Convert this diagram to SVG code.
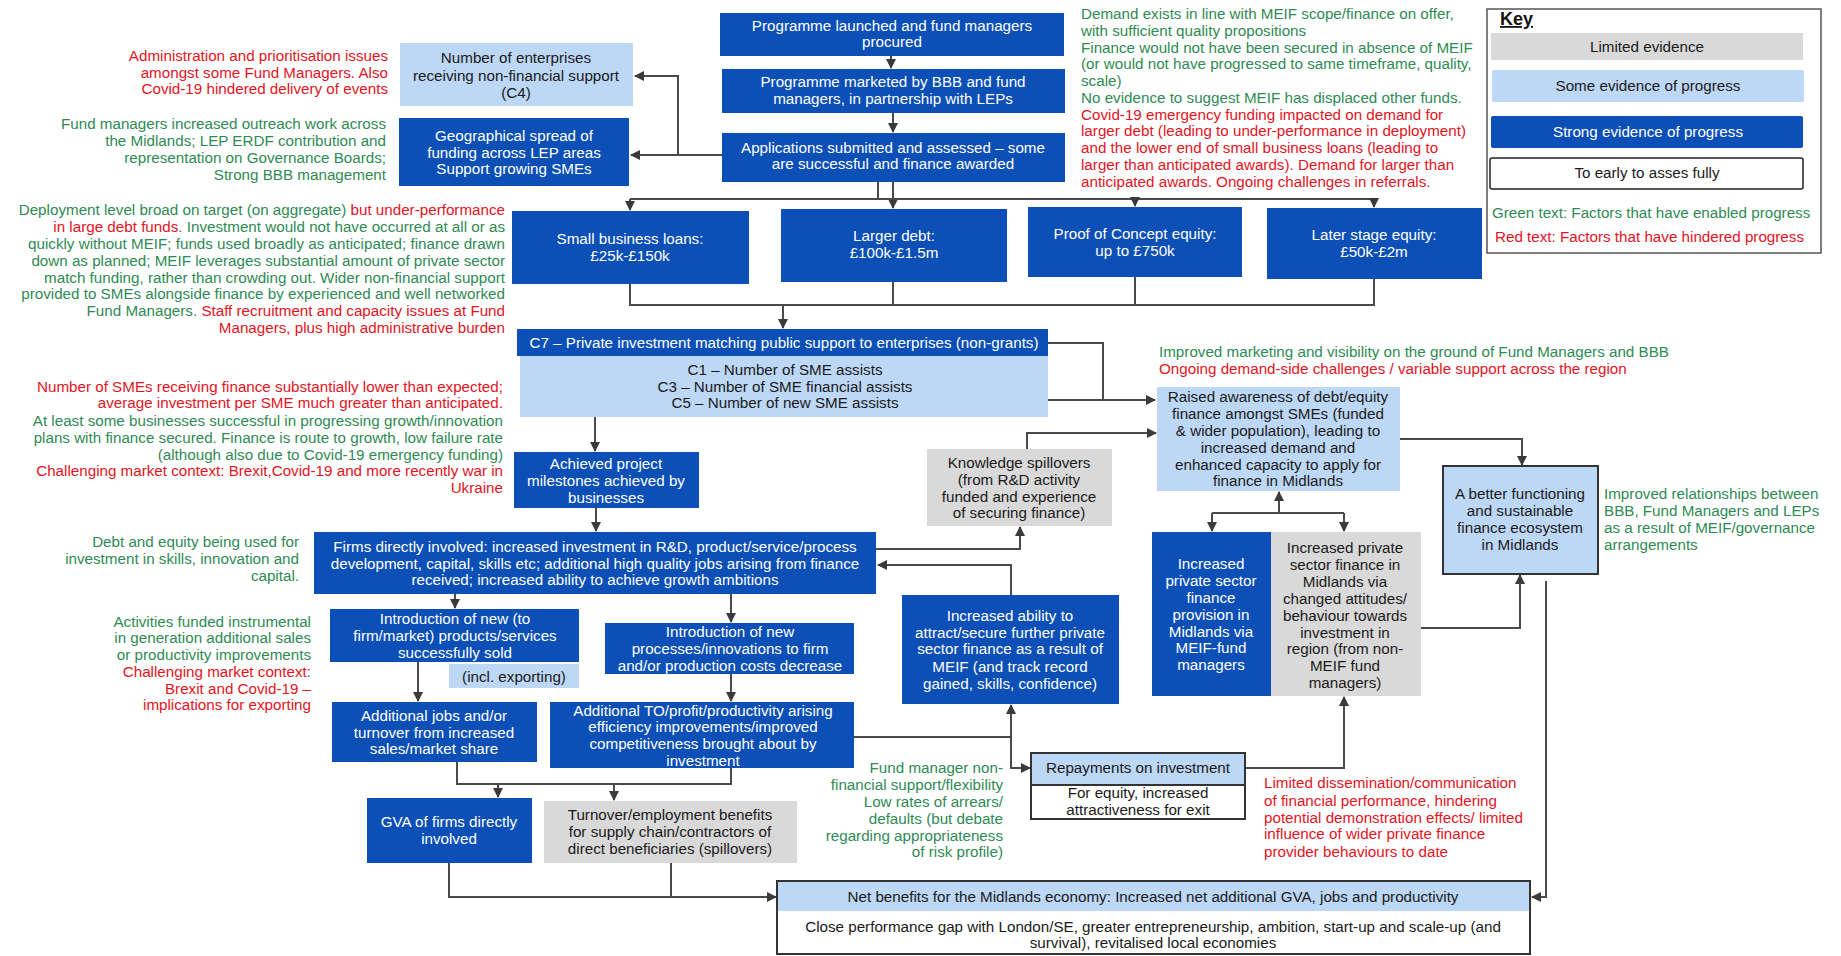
<svg xmlns="http://www.w3.org/2000/svg" width="1841" height="956" viewBox="0 0 1841 956">
<defs>
<style>
text{font-family:"Liberation Sans",Arial,sans-serif;font-size:15.2px}
.w{fill:#ffffff;text-anchor:middle}
.k{fill:#1a1a1a;text-anchor:middle}
.g{fill:#2f8a55}
.r{fill:#e3141e}
.re{text-anchor:end}
.db{fill:#0b4fb7}
.lb{fill:#bdd7f7}
.gr{fill:#d9d9d9}
.c{fill:none;stroke:#4a4a4a;stroke-width:2}
</style>
<marker id="ah" viewBox="0 0 10 10" refX="9" refY="5" markerWidth="10" markerHeight="10" markerUnits="userSpaceOnUse" orient="auto"><path d="M0,0 L10,5 L0,10 z" fill="#3a3a3a"/></marker>
</defs>
<rect width="1841" height="956" fill="#ffffff"/>

<g id="connectors">
<path class="c" d="M891,56 V68" marker-end="url(#ah)"/>
<path class="c" d="M893,113 V132" marker-end="url(#ah)"/>
<path class="c" d="M722,155 H678 V76 H635" marker-end="url(#ah)"/>
<path class="c" d="M678,155 H631" marker-end="url(#ah)"/>
<path class="c" d="M893,182 V208" marker-end="url(#ah)"/>
<path class="c" d="M878,182 V199"/>
<path class="c" d="M630,199 H1374"/>
<path class="c" d="M630,199 V210" marker-end="url(#ah)"/>
<path class="c" d="M1135,199 V206" marker-end="url(#ah)"/>
<path class="c" d="M1374,199 V207" marker-end="url(#ah)"/>
<path class="c" d="M630,284 V305 H1374 V279"/>
<path class="c" d="M893,282 V305"/>
<path class="c" d="M1135,277 V305"/>
<path class="c" d="M783,305 V328" marker-end="url(#ah)"/>
<path class="c" d="M1048,343 H1103 V400"/>
<path class="c" d="M1048,400 H1155" marker-end="url(#ah)"/>
<path class="c" d="M595,387 V451" marker-end="url(#ah)"/>
<path class="c" d="M596,508 V531" marker-end="url(#ah)"/>
<path class="c" d="M876,549 H1020 V527" marker-end="url(#ah)"/>
<path class="c" d="M1011,595 V565 H878" marker-end="url(#ah)"/>
<path class="c" d="M1027,449 V433 H1156" marker-end="url(#ah)"/>
<path class="c" d="M1400,439 H1522 V465" marker-end="url(#ah)"/>
<path class="c" d="M1279,513 V492" marker-end="url(#ah)"/>
<path class="c" d="M1212,513 H1344"/>
<path class="c" d="M1212,513 V531" marker-end="url(#ah)"/>
<path class="c" d="M1344,513 V531" marker-end="url(#ah)"/>
<path class="c" d="M1421,628 H1520 V575" marker-end="url(#ah)"/>
<path class="c" d="M1546,581 V897 H1532" marker-end="url(#ah)"/>
<path class="c" d="M455,594 V608" marker-end="url(#ah)"/>
<path class="c" d="M731,594 V622" marker-end="url(#ah)"/>
<path class="c" d="M418,662 V701" marker-end="url(#ah)"/>
<path class="c" d="M731,674 V701" marker-end="url(#ah)"/>
<path class="c" d="M457,762 V784 H731 V768"/>
<path class="c" d="M498,784 V797" marker-end="url(#ah)"/>
<path class="c" d="M614,784 V800" marker-end="url(#ah)"/>
<path class="c" d="M449,863 V897 H776" marker-end="url(#ah)"/>
<path class="c" d="M671,863 V897"/>
<path class="c" d="M854,737 H1011 V705" marker-end="url(#ah)"/>
<path class="c" d="M1011,737 V768 H1030" marker-end="url(#ah)"/>
<path class="c" d="M1245,768 H1344 V697" marker-end="url(#ah)"/>
</g>

<g id="n-launched"><rect class="db" x="720" y="13" width="344" height="43"/>
<text class="w" x="892" y="31">Programme  launched and fund managers</text><text class="w" x="892" y="47">procured</text></g>
<g id="n-marketed"><rect class="db" x="722" y="69" width="343" height="44"/>
<text class="w" x="893" y="87">Programme  marketed by BBB and fund</text><text class="w" x="893" y="104">managers, in partnership with LEPs</text></g>
<g id="n-applications"><rect class="db" x="722" y="133" width="343" height="49"/>
<text class="w" x="893" y="153">Applications submitted and assessed – some</text><text class="w" x="893" y="169">are successful and finance awarded</text></g>

<g id="n-c4"><rect class="lb" x="400" y="43" width="233" height="63"/>
<text class="k" x="516" y="63">Number of enterprises</text><text class="k" x="516" y="81">receiving non-financial support</text><text class="k" x="516" y="98">(C4)</text></g>
<g id="n-geo"><rect class="db" x="399" y="118" width="230" height="68"/>
<text class="w" x="514" y="141">Geographical spread of</text><text class="w" x="514" y="158">funding across LEP areas</text><text class="w" x="514" y="174">Support growing SMEs</text></g>

<g id="n-small"><rect class="db" x="512" y="211" width="237" height="73"/>
<text class="w" x="630" y="244">Small  business loans:</text><text class="w" x="630" y="261">£25k-£150k</text></g>
<g id="n-larger"><rect class="db" x="781" y="209" width="226" height="73"/>
<text class="w" x="894" y="241">Larger debt:</text><text class="w" x="894" y="258">£100k-£1.5m</text></g>
<g id="n-poc"><rect class="db" x="1028" y="207" width="214" height="70"/>
<text class="w" x="1135" y="239">Proof of Concept equity:</text><text class="w" x="1135" y="256">up to £750k</text></g>
<g id="n-later"><rect class="db" x="1267" y="208" width="215" height="71"/>
<text class="w" x="1374" y="240">Later stage equity:</text><text class="w" x="1374" y="257">£50k-£2m</text></g>

<g id="n-c7"><rect class="lb" x="520" y="356" width="528" height="61"/><rect class="db" x="517" y="329" width="531" height="27"/>
<text class="w" x="784" y="348">C7 – Private investment matching public support to enterprises (non-grants)</text>
<text class="k" x="785" y="375">C1 – Number of SME  assists</text><text class="k" x="785" y="392">C3 – Number of SME  financial assists</text><text class="k" x="785" y="408">C5 – Number of new SME assists</text></g>

<g id="n-achieved"><rect class="db" x="514" y="452" width="185" height="56"/>
<text class="w" x="606" y="469">Achieved project</text><text class="w" x="606" y="486">milestones achieved by</text><text class="w" x="606" y="503">businesses</text></g>

<g id="n-firms"><rect class="db" x="314" y="532" width="562" height="62"/>
<text class="w" x="595" y="552">Firms directly involved: increased investment in R&amp;D,  product/service/process</text>
<text class="w" x="595" y="569">development, capital, skills etc; additional high quality jobs arising from finance</text>
<text class="w" x="595" y="585">received; increased ability to achieve growth ambitions</text></g>

<g id="n-knowledge"><rect class="gr" x="927" y="449" width="185" height="77"/>
<text class="k" x="1019" y="468">Knowledge spillovers</text><text class="k" x="1019" y="485">(from R&amp;D activity</text><text class="k" x="1019" y="502">funded and experience</text><text class="k" x="1019" y="518">of securing finance)</text></g>

<g id="n-raised"><rect class="lb" x="1157" y="387" width="243" height="104"/>
<text class="k" x="1278" y="402">Raised awareness of debt/equity</text><text class="k" x="1278" y="419">finance amongst SMEs  (funded</text><text class="k" x="1278" y="436">&amp; wider population), leading to</text><text class="k" x="1278" y="453">increased demand and</text><text class="k" x="1278" y="470">enhanced capacity to apply for</text><text class="k" x="1278" y="486">finance in Midlands</text></g>

<g id="n-better"><rect class="lb" x="1443" y="466" width="155" height="108" stroke="#333333" stroke-width="2"/>
<text class="k" x="1520" y="499">A better functioning</text><text class="k" x="1520" y="516">and sustainable</text><text class="k" x="1520" y="533">finance ecosystem</text><text class="k" x="1520" y="550">in Midlands</text></g>

<g id="n-meif"><rect class="db" x="1152" y="532" width="119" height="164"/>
<text class="w" x="1211" y="569">Increased</text><text class="w" x="1211" y="586">private sector</text><text class="w" x="1211" y="603">finance</text><text class="w" x="1211" y="620">provision in</text><text class="w" x="1211" y="637">Midlands  via</text><text class="w" x="1211" y="653">MEIF-fund</text><text class="w" x="1211" y="670">managers</text></g>

<g id="n-nonmeif"><rect class="gr" x="1271" y="532" width="150" height="164"/>
<text class="k" x="1345" y="553">Increased private</text><text class="k" x="1345" y="570">sector finance in</text><text class="k" x="1345" y="587">Midlands  via</text><text class="k" x="1345" y="604">changed attitudes/</text><text class="k" x="1345" y="621">behaviour towards</text><text class="k" x="1345" y="638">investment in</text><text class="k" x="1345" y="654">region (from non-</text><text class="k" x="1345" y="671">MEIF  fund</text><text class="k" x="1345" y="688">managers)</text></g>

<g id="n-ability"><rect class="db" x="902" y="595" width="217" height="109"/>
<text class="w" x="1010" y="621">Increased ability to</text><text class="w" x="1010" y="638">attract/secure further private</text><text class="w" x="1010" y="654">sector finance as a result of</text><text class="w" x="1010" y="672">MEIF  (and track record</text><text class="w" x="1010" y="689">gained, skills, confidence)</text></g>

<g id="n-intro"><rect class="db" x="330" y="609" width="249" height="53"/>
<text class="w" x="455" y="624">Introduction of new (to</text><text class="w" x="455" y="641">firm/market) products/services</text><text class="w" x="455" y="658">successfully sold</text></g>
<g id="n-export"><rect class="lb" x="449" y="664" width="130" height="24"/>
<text class="k" x="514" y="682">(incl. exporting)</text></g>

<g id="n-process"><rect class="db" x="605" y="623" width="249" height="51"/>
<text class="w" x="730" y="637">Introduction of new</text><text class="w" x="730" y="654">processes/innovations to firm</text><text class="w" x="730" y="671">and/or production costs decrease</text></g>

<g id="n-jobs"><rect class="db" x="332" y="702" width="205" height="60"/>
<text class="w" x="434" y="721">Additional jobs and/or</text><text class="w" x="434" y="738">turnover from increased</text><text class="w" x="434" y="754">sales/market share</text></g>

<g id="n-to"><rect class="db" x="550" y="702" width="304" height="66"/>
<text class="w" x="703" y="716">Additional TO/profit/productivity arising</text><text class="w" x="703" y="732">efficiency improvements/improved</text><text class="w" x="703" y="749">competitiveness brought about by</text><text class="w" x="703" y="766">investment</text></g>

<g id="n-gva"><rect class="db" x="367" y="798" width="165" height="65"/>
<text class="w" x="449" y="827">GVA of firms directly</text><text class="w" x="449" y="844">involved</text></g>

<g id="n-turnover"><rect class="gr" x="544" y="801" width="253" height="62"/>
<text class="k" x="670" y="820">Turnover/employment benefits</text><text class="k" x="670" y="837">for supply chain/contractors of</text><text class="k" x="670" y="854">direct beneficiaries (spillovers)</text></g>

<g id="n-repay"><rect x="1031" y="753" width="214" height="66" fill="#ffffff" stroke="#333333" stroke-width="2"/><rect class="lb" x="1032" y="754" width="212" height="31"/><line x1="1031" y1="785" x2="1245" y2="785" stroke="#333333" stroke-width="2"/>
<text class="k" x="1138" y="773">Repayments on investment</text><text class="k" x="1138" y="798">For equity, increased</text><text class="k" x="1138" y="815">attractiveness for exit</text></g>

<g id="n-net"><rect x="777" y="881" width="753" height="73" fill="#ffffff" stroke="#333333" stroke-width="2"/><rect class="lb" x="778" y="882" width="751" height="29"/>
<text class="k" x="1153" y="902">Net benefits for the Midlands  economy: Increased net additional GVA, jobs and productivity</text>
<text class="k" x="1153" y="932">Close performance gap with London/SE,  greater entrepreneurship, ambition, start-up and scale-up (and</text>
<text class="k" x="1153" y="948">survival), revitalised local economies</text></g>

<g id="key"><rect x="1487" y="9" width="334" height="244" fill="#ffffff" stroke="#555555" stroke-width="1.5"/>
<text x="1500" y="25" style="font-size:18px;font-weight:bold;text-decoration:underline" fill="#111111">Key</text>
<rect class="gr" x="1491" y="33" width="312" height="27"/><text class="k" x="1647" y="52">Limited  evidence</text>
<rect class="lb" x="1492" y="70" width="312" height="32" rx="2"/><text class="k" x="1648" y="91">Some  evidence of progress</text>
<rect class="db" x="1491" y="116" width="312" height="32" rx="2"/><text class="w" x="1648" y="137">Strong evidence of progress</text>
<rect x="1490" y="158" width="313" height="31" rx="2" fill="#ffffff" stroke="#222222" stroke-width="1.5"/><text class="k" x="1647" y="178">To early to asses fully</text>
<text class="g" x="1492" y="218">Green text: Factors that have enabled progress</text>
<text class="r" x="1495" y="242">Red text: Factors that have hindered progress</text></g>

<g id="notes">
<text class="r re" x="388" y="61">Administration and prioritisation issues</text>
<text class="r re" x="388" y="78">amongst some Fund Managers.  Also</text>
<text class="r re" x="388" y="94">Covid-19 hindered delivery of events</text>

<text class="g re" x="386" y="129">Fund managers increased outreach work across</text>
<text class="g re" x="386" y="146">the Midlands; LEP ERDF  contribution and</text>
<text class="g re" x="386" y="163">representation on Governance Boards;</text>
<text class="g re" x="386" y="180">Strong BBB management</text>

<text class="re" x="505" y="215"><tspan class="g">Deployment level broad on target (on aggregate) </tspan><tspan class="r">but under-performance</tspan></text>
<text class="re" x="505" y="232"><tspan class="r">in large debt funds</tspan><tspan class="g">. Investment would not have occurred at all or as</tspan></text>
<text class="g re" x="505" y="249">quickly without MEIF;  funds used broadly as anticipated;  finance drawn</text>
<text class="g re" x="505" y="266">down as planned; MEIF  leverages substantial amount of private sector</text>
<text class="g re" x="505" y="283">match funding, rather than crowding out.  Wider non-financial support</text>
<text class="g re" x="505" y="299">provided to SMEs  alongside finance by experienced and well networked</text>
<text class="re" x="505" y="316"><tspan class="g">Fund Managers. </tspan><tspan class="r">Staff recruitment and capacity issues at Fund</tspan></text>
<text class="r re" x="505" y="333">Managers, plus high administrative burden</text>

<text class="r re" x="503" y="392">Number of SMEs  receiving finance substantially lower than expected;</text>
<text class="r re" x="503" y="408">average investment per SME  much greater than anticipated.</text>
<text class="g re" x="503" y="426">At least some businesses successful in progressing growth/innovation</text>
<text class="g re" x="503" y="443">plans with finance secured.  Finance is route to growth, low failure rate</text>
<text class="g re" x="503" y="460">(although also due to Covid-19 emergency funding)</text>
<text class="r re" x="503" y="476">Challenging  market context: Brexit,Covid-19 and more recently war in</text>
<text class="r re" x="503" y="493">Ukraine</text>

<text class="g re" x="299" y="547">Debt and equity being used for</text>
<text class="g re" x="299" y="564">investment in skills, innovation and</text>
<text class="g re" x="299" y="581">capital.</text>

<text class="g re" x="311" y="627">Activities funded instrumental</text>
<text class="g re" x="311" y="643">in generation additional sales</text>
<text class="g re" x="311" y="660">or productivity improvements</text>
<text class="r re" x="311" y="677">Challenging  market context:</text>
<text class="r re" x="311" y="694">Brexit and Covid-19 –</text>
<text class="r re" x="311" y="710">implications  for exporting</text>

<text class="g" x="1081" y="19">Demand  exists in line  with MEIF  scope/finance on offer,</text>
<text class="g" x="1081" y="36">with sufficient quality propositions</text>
<text class="g" x="1081" y="53">Finance  would not have been  secured in absence of MEIF</text>
<text class="g" x="1081" y="69">(or would not have progressed to same timeframe, quality,</text>
<text class="g" x="1081" y="86">scale)</text>
<text class="g" x="1081" y="103">No  evidence to suggest MEIF  has displaced other funds.</text>
<text class="r" x="1081" y="120">Covid-19 emergency funding impacted  on demand for</text>
<text class="r" x="1081" y="136">larger debt (leading to under-performance in deployment)</text>
<text class="r" x="1081" y="153">and the lower end of small business loans (leading to</text>
<text class="r" x="1081" y="170">larger than anticipated awards).  Demand  for larger than</text>
<text class="r" x="1081" y="187">anticipated awards.  Ongoing challenges in  referrals.</text>

<text class="g" x="1159" y="357">Improved marketing and visibility on the ground of Fund Managers and BBB</text>
<text class="r" x="1159" y="374">Ongoing demand-side challenges / variable support across the region</text>

<text class="g" x="1604" y="499">Improved relationships between</text>
<text class="g" x="1604" y="516">BBB, Fund Managers and LEPs</text>
<text class="g" x="1604" y="533">as a result of MEIF/governance</text>
<text class="g" x="1604" y="550">arrangements</text>

<text class="g re" x="1003" y="773">Fund manager non-</text>
<text class="g re" x="1003" y="790">financial support/flexibility</text>
<text class="g re" x="1003" y="807">Low rates of arrears/</text>
<text class="g re" x="1003" y="824">defaults (but debate</text>
<text class="g re" x="1003" y="841">regarding appropriateness</text>
<text class="g re" x="1003" y="857">of risk profile)</text>

<text class="r" x="1264" y="788">Limited  dissemination/communication</text>
<text class="r" x="1264" y="806">of financial performance, hindering</text>
<text class="r" x="1264" y="823">potential  demonstration effects/ limited</text>
<text class="r" x="1264" y="839">influence of wider private finance</text>
<text class="r" x="1264" y="857">provider behaviours to date</text>
</g>
</svg>
